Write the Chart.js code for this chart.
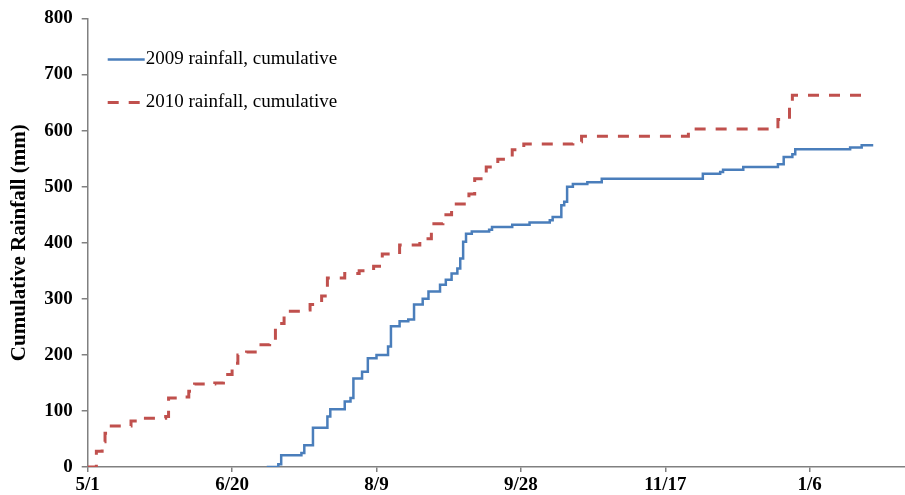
<!DOCTYPE html>
<html>
<head>
<meta charset="utf-8">
<script src="https://cdn.jsdelivr.net/npm/chart.js@4.4.1/dist/chart.umd.min.js"></script>
<style>
  html, body { margin: 0; padding: 0; background: #fff; }
  #wrap { width: 905px; height: 495px; }
</style>
</head>
<body>
<div id="wrap"><canvas id="myChart"></canvas></div>
<script>
// giorni dal 1 maggio e pioggia cumulativa (mm)
var days2009 = [62, 66, 67, 74, 75, 78, 83, 84, 89, 91, 92, 95, 97, 100, 104, 105, 108, 111, 113, 116, 118, 122, 124, 126, 128, 129, 130, 131, 133, 139, 140, 147, 153, 160, 161, 164, 165, 166, 168, 173, 178, 213, 219, 220, 227, 239, 241, 244, 245, 264, 268, 272];
var rain2009 = [0, 5, 21, 25, 39, 70, 90, 103, 117, 123, 158, 170, 194, 200, 215, 251, 260, 263, 290, 300, 313, 325, 334, 345, 354, 372, 402, 416, 420, 423, 428, 432, 436, 440, 446, 467, 473, 500, 505, 508, 514, 523, 526, 530, 535, 540, 553, 558, 567, 570, 574, 574];

var days2010 = [0, 2, 3, 5, 6, 7, 14, 15, 18, 27, 28, 31, 35, 37, 44, 47, 50, 52, 55, 58, 63, 65, 68, 74, 77, 81, 83, 89, 94, 99, 102, 108, 115, 119, 123, 126, 132, 134, 138, 142, 147, 151, 168, 171, 207, 208, 238, 239, 243, 244, 268, 270];
var rain2010 = [0, 0, 28, 45, 60, 73, 73, 82, 87, 90, 123, 125, 135, 148, 150, 165, 185, 200, 205, 218, 225, 256, 278, 280, 290, 305, 337, 345, 350, 358, 380, 396, 407, 434, 450, 469, 487, 514, 535, 549, 566, 576, 580, 590, 590, 603, 603, 620, 651, 663, 663, 668];

var tickDays = [0, 50, 100, 150, 200, 250];
var tickLabels = ["5/1", "6/20", "8/9", "9/28", "11/17", "1/6"];

function toPoints(xs, ys) {
  var pts = [];
  for (var i = 0; i < xs.length; i++) {
    pts.push({x: xs[i], y: ys[i]});
  }
  return pts;
}

var serif = "'Liberation Serif', 'Times New Roman', serif";

// legenda disegnata dentro l'area del grafico, in alto a sinistra
var innerLegend = {
  id: "innerLegend",
  afterDraw: function(chart) {
    var ctx = chart.ctx;
    var area = chart.chartArea;
    var sets = chart.data.datasets;
    ctx.save();
    ctx.font = "19px " + serif;
    ctx.textBaseline = "middle";
    ctx.fillStyle = "#000";
    for (var i = 0; i < sets.length; i++) {
      var y = area.top + 41 + i * 43;
      var x0 = area.left + 20;
      ctx.beginPath();
      ctx.strokeStyle = sets[i].borderColor;
      ctx.lineWidth = sets[i].borderWidth;
      ctx.setLineDash(sets[i].borderDash || []);
      ctx.moveTo(x0, y);
      ctx.lineTo(x0 + 37, y);
      ctx.stroke();
      ctx.setLineDash([]);
      ctx.fillText(sets[i].label, x0 + 38, y);
    }
    ctx.restore();
  }
};

var ctx = document.getElementById("myChart").getContext("2d");
var myChart = new Chart(ctx, {
  type: "line",
  data: {
    datasets: [{
      label: "2009 rainfall, cumulative",
      data: toPoints(days2009, rain2009),
      borderColor: "#4a7ebb",
      borderWidth: 2.5,
      stepped: "before",
      pointRadius: 0,
      fill: false
    }, {
      label: "2010 rainfall, cumulative",
      data: toPoints(days2010, rain2010),
      borderColor: "#c0504d",
      borderWidth: 3,
      borderDash: [11, 10],
      stepped: "before",
      pointRadius: 0,
      fill: false
    }]
  },
  plugins: [innerLegend],
  options: {
    responsive: true,
    maintainAspectRatio: false,
    animation: false,
    layout: { padding: { top: 2, right: 0, left: 0, bottom: -4 } },
    plugins: {
      legend: { display: false },
      tooltip: { enabled: false }
    },
    scales: {
      x: {
        type: "linear",
        min: 0,
        max: 283,
        afterBuildTicks: function(scale) {
          scale.ticks = tickDays.map(function(d) { return {value: d}; });
        },
        ticks: {
          autoSkip: false,
          maxRotation: 0,
          padding: 4,
          color: "#000",
          font: { family: serif, size: 19, weight: "bold", lineHeight: 1 },
          callback: function(value) {
            var idx = tickDays.indexOf(value);
            return idx >= 0 ? tickLabels[idx] : "";
          }
        },
        grid: {
          display: true,
          drawOnChartArea: false,
          drawTicks: true,
          tickLength: 5,
          color: "#808080",
          lineWidth: 1.5
        },
        border: { display: true, color: "#808080", width: 1.5 }
      },
      y: {
        min: 0,
        max: 800,
        ticks: {
          stepSize: 100,
          padding: 9,
          color: "#000",
          font: { family: serif, size: 19, weight: "bold", lineHeight: 1 }
        },
        grid: {
          display: true,
          drawOnChartArea: false,
          drawTicks: true,
          tickLength: 6,
          color: "#808080",
          lineWidth: 1.5
        },
        border: { display: true, color: "#808080", width: 1.5 },
        title: {
          display: true,
          text: "Cumulative Rainfall (mm)",
          color: "#000",
          padding: { top: 7, bottom: 3 },
          font: { family: serif, size: 21, weight: "bold" }
        }
      }
    }
  }
});
</script>
</body>
</html>
